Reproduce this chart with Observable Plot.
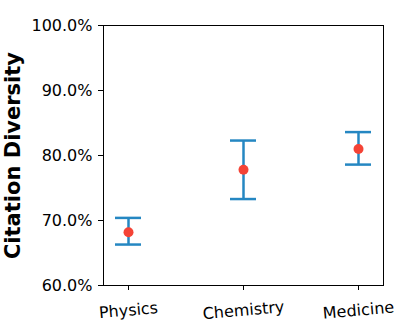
<!DOCTYPE html>
<html>
<head>
<meta charset="utf-8">
<script src="https://cdn.jsdelivr.net/npm/d3@7"></script>
<script src="https://cdn.jsdelivr.net/npm/@observablehq/plot@0.6"></script>
<style>
  html, body { margin: 0; padding: 0; background: #fff; }
</style>
</head>
<body>
<div id="chart"></div>
<script>
const categories = ["Physics", "Chemistry", "Medicine"];
const means = [68.2, 77.8, 81.0];
const lows = [66.3, 73.3, 78.6];
const highs = [70.4, 82.3, 83.6];
const yTicks = [60, 70, 80, 90, 100];

const data = categories.map((c, i) => ({cat: c, mean: means[i], lo: lows[i], hi: highs[i]}));

const blue = "#2587c2";
const red = "#f44336";

const chart = Plot.plot({
  width: 398,
  height: 323,
  marginLeft: 103,
  marginRight: 15,
  marginTop: 25,
  marginBottom: 38,
  style: {fontFamily: "DejaVu Sans", fontSize: "16px", color: "black", background: "white"},
  x: {type: "band", domain: categories, paddingInner: 0.776, paddingOuter: 0.095},
  y: {domain: [60, 100]},
  marks: [
    Plot.frame({stroke: "black", strokeWidth: 1}),
    Plot.axisY({ticks: yTicks, tickSize: 5, tickPadding: 6, tickFormat: d => d.toFixed(1) + "%", label: null, fontSize: 16, stroke: "black", strokeOpacity: 1}),
    Plot.axisX({tickSize: 5, tickFormat: () => "", label: null, stroke: "black", strokeOpacity: 1}),
    Plot.text(data, {x: "cat", y: () => 60, text: "cat", dy: 25, rotate: -5, textAnchor: "middle", lineAnchor: "middle", fontSize: 16, fill: "black"}),
    Plot.text(["Citation Diversity"], {frameAnchor: "left", dx: -90, rotate: -90, fontSize: 21, fontWeight: "bold", fill: "black", textAnchor: "middle"}),
    Plot.ruleX(data, {x: "cat", y1: "lo", y2: "hi", stroke: blue, strokeWidth: 2.5}),
    Plot.tickY(data, {x: "cat", y: "lo", stroke: blue, strokeWidth: 2.5}),
    Plot.tickY(data, {x: "cat", y: "hi", stroke: blue, strokeWidth: 2.5}),
    Plot.dot(data, {x: "cat", y: "mean", r: 5, fill: red, stroke: "none"})
  ]
});
document.getElementById("chart").appendChild(chart);
</script>
</body>
</html>
